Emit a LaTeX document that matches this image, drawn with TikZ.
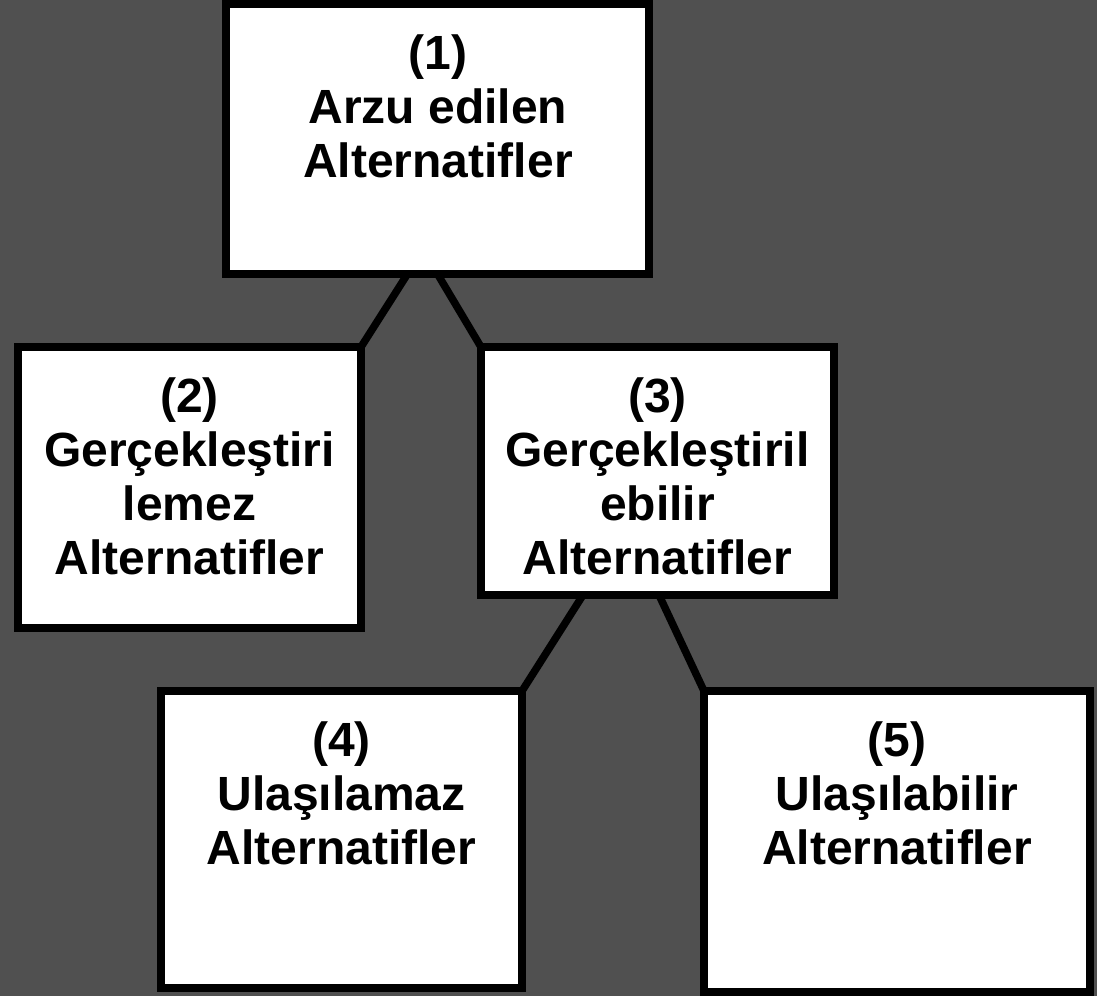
\documentclass[tikz,border=0pt]{standalone}
\usepackage{fontspec}
\setmainfont{Liberation Sans}
\definecolor{bggray}{RGB}{80,80,80}
\begin{document}
\begin{tikzpicture}[x=1pt,y=-1pt,
  box/.style={draw=black,fill=white,line width=7.5pt,rectangle,inner sep=0pt,outer sep=0pt},
  lbl/.style={anchor=north,align=center,inner sep=0pt,font=\fontsize{48}{54}\selectfont\bfseries},
  conn/.style={draw=black,line width=7.5pt}]
\fill[bggray] (0,0) rectangle (1097,996);
\useasboundingbox (0,0) rectangle (1097,996);
% boxes (center-line geometry)
\node[box,minimum width=423pt,minimum height=270pt] (b1) at (437.5,139) {};
\node[box,minimum width=343pt,minimum height=281pt] (b2) at (189.5,487.5) {};
\node[box,minimum width=353pt,minimum height=248pt] (b3) at (657.5,471) {};
\node[box,minimum width=361pt,minimum height=297pt] (b4) at (341.5,839.5) {};
\node[box,minimum width=386pt,minimum height=301pt] (b5) at (897,841.5) {};
% connectors
\draw[conn] ([xshift=-30pt]b1.south) -- (b2.north east);
\draw[conn] ([xshift=0pt]b1.south) -- (b3.north west);
\draw[conn] ([xshift=-74.5pt]b3.south) -- (b4.north east);
\draw[conn] ([xshift=1.5pt]b3.south) -- (b5.north west);
% labels
\node[lbl] (t1) at (438,35) {(1)\\Arzu edilen\\Alternatifler};
\node[lbl] (t2) at (189.5,378) {(2)\\Gerçekleştiri\\lemez\\Alternatifler};
\node[lbl] (t3) at (657.5,378) {(3)\\Gerçekleştiril\\ebilir\\Alternatifler};
\node[lbl] (t4) at (341.5,722) {(4)\\Ulaşılamaz\\Alternatifler};
\node[lbl] (t5) at (897,722) {(5)\\Ulaşılabilir\\Alternatifler};
\end{tikzpicture}
\end{document}
